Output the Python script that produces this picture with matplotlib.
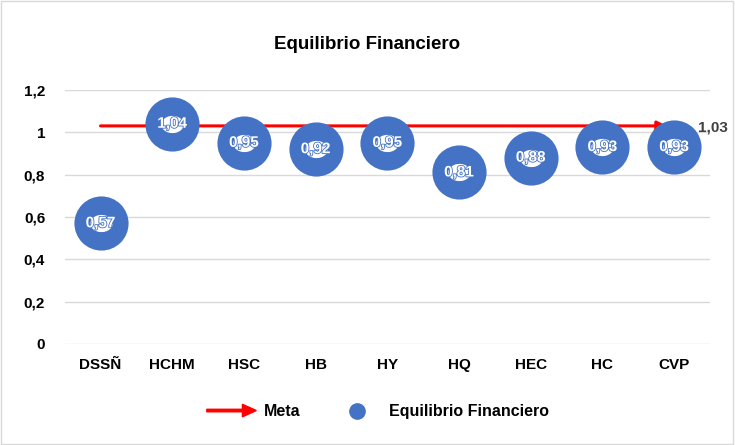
"""Equilibrio Financiero -- scatter per hospital vs. meta line."""
import numpy as np
import matplotlib as mpl
mpl.use("Agg")
mpl.rcParams.update({
    "font.family": ["Liberation Sans", "DejaVu Sans"],
    "font.weight": "bold",
})
import matplotlib.pyplot as plt
import matplotlib.patches as mpatches
import matplotlib.patheffects as pe
from matplotlib.path import Path
from matplotlib.legend_handler import HandlerPatch

categories = ["DSSÑ", "HCHM", "HSC", "HB", "HY", "HQ", "HEC", "HC", "CVP"]
equilibrio = [0.57, 1.04, 0.95, 0.92, 0.95, 0.81, 0.88, 0.93, 0.93]
meta = 1.03
yticks = [0, 0.2, 0.4, 0.6, 0.8, 1.0, 1.2]

BLUE = "#4472C4"
RED = "#FF0000"


def fmt(v):
    return f"{v:.2f}".replace(".", ",")


def fmt_tick(v):
    s = f"{v:.1f}".replace(".", ",")
    return {"0,0": "0", "1,0": "1"}.get(s, s)


fig = plt.figure(figsize=(7.35, 4.45), dpi=100)
fig.patches.append(mpatches.Rectangle((0.002, 0.003), 0.995, 0.994, transform=fig.transFigure,
                                      fill=False, edgecolor="#D9D9D9", lw=1.0))
ax = fig.add_axes([0.088, 0.227, 0.878, 0.571])

x = list(range(len(categories)))

# meta line with arrow end
ax.annotate("", xy=(x[-1] - 0.1, meta), xytext=(x[0], meta),
            arrowprops=dict(arrowstyle="-|>", color=RED, lw=2.2, mutation_scale=14,
                            shrinkA=0, shrinkB=0), zorder=2)
ax.annotate(fmt(meta), (x[-1], meta), xytext=(17, -1), textcoords="offset points",
            fontsize=11, color="#404040", fontweight="bold", va="center", ha="left")

ax.scatter(x, equilibrio, s=1520, color=BLUE, zorder=3, linewidths=0)
# data labels (white text over a white blob, as in the original)
t = np.linspace(0, 2 * np.pi, 60)
blob = Path(np.column_stack([1.3 * np.cos(t), np.sin(t)]), closed=True)
ax.scatter(x, equilibrio, s=260, marker=blob, color="white", zorder=4, linewidths=0)
for xi, v in zip(x, equilibrio):
    ax.text(xi, v, fmt(v), color="white", fontsize=11, fontweight="bold",
            ha="center", va="center", zorder=5,
            path_effects=[pe.withStroke(linewidth=1.2, foreground=BLUE)])

ax.set_xlim(-0.5, len(categories) - 0.5)
ax.set_ylim(0, 1.2)
ax.set_yticks(yticks)
ax.set_yticklabels([fmt_tick(v) for v in yticks])
ax.set_xticks(x)
ax.set_xticklabels(categories)
ax.tick_params(length=0, labelsize=11, pad=10)
ax.tick_params(axis="y", pad=14)
for lab in ax.get_xticklabels() + ax.get_yticklabels():
    lab.set_fontweight("bold")
ax.grid(axis="y", color="#D9D9D9", lw=1.0)
ax.set_axisbelow(True)
for s in ax.spines.values():
    s.set_visible(False)

fig.text(0.5, 0.9, "Equilibrio Financiero", ha="center", va="center",
         fontsize=13.5, fontweight="bold")


def make_arrow(legend, orig_handle, xdescent, ydescent, width, height, fontsize):
    return mpatches.FancyArrow(-xdescent, height / 2 - ydescent, width, 0,
                               width=1.8, head_width=9, head_length=10,
                               length_includes_head=True, color=RED)


arrow_h = mpatches.FancyArrow(0, 0, 1, 0, color=RED)
dot_h = plt.Line2D([], [], marker="o", ls="none", color=BLUE, markersize=11)
fig.legend([arrow_h, dot_h], ["Meta", "Equilibrio Financiero"],
           handler_map={mpatches.FancyArrow: HandlerPatch(patch_func=make_arrow)},
           loc="center", bbox_to_anchor=(0.514, 0.075), ncol=2, frameon=False,
           handlelength=3.1, columnspacing=2.0, handletextpad=0.45,
           prop={"weight": "bold", "size": 11.5})

fig.savefig("out.png", dpi=100)
